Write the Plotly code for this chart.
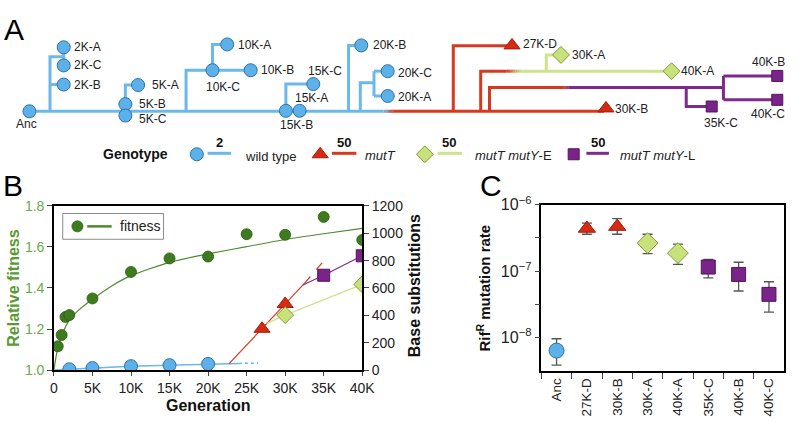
import plotly.graph_objects as go

W, H = 803, 423
FONT = "Liberation Sans, Arial, sans-serif"

# ---------------- Panel B data ----------------
fit_gen = [500, 1000, 1500, 2000, 5000, 10000, 15000, 20000, 25000, 30000, 35000, 40000]
fit_val = [1.116, 1.171, 1.259, 1.268, 1.349, 1.478, 1.544, 1.553, 1.662, 1.659, 1.746, 1.634]
curve_gen = [0, 250, 500, 1000, 1500, 2000, 3000, 5000, 7500, 10000, 15000, 20000, 25000, 30000, 35000, 40000]
curve_val = [1.0, 1.06, 1.11, 1.17, 1.21, 1.245, 1.285, 1.345, 1.41, 1.46, 1.525, 1.566, 1.601, 1.636, 1.664, 1.69]

wt_gen = [2000, 5000, 10000, 15000, 20000]
wt_subs = [6, 15, 29, 36, 45]
wt_line_gen = [0, 2000, 5000, 10000, 15000, 20000, 24000]
wt_line_subs = [0, 6, 15, 29, 36, 45, 49]
wt_dot_gen = [24000, 26500]
wt_dot_subs = [49, 52]

mutT_gen = [27000, 30000]
mutT_subs = [302, 483]
mutT_line_gen = [22700, 27000, 30000, 32500]
mutT_line_subs = [45, 302, 483, 634]
mutT_dash_gen = [32500, 34900]
mutT_dash_subs = [634, 790]

mutYE_gen = [30000, 40000]
mutYE_subs = [402, 626]
mutYE_line_gen = [27600, 30000, 40000]
mutYE_line_subs = [340, 402, 626]

mutYL_gen = [35000, 40000]
mutYL_subs = [693, 835]
mutYL_line_gen = [32300, 35000, 40000]
mutYL_line_subs = [622, 693, 835]

gen_ticks = [0, 5000, 10000, 15000, 20000, 25000, 30000, 35000, 40000]
gen_labels = ["0", "5K", "10K", "15K", "20K", "25K", "30K", "35K", "40K"]

# ---------------- Panel C data ----------------
c_cats = ["Anc", "27K-D", "30K-B", "30K-A", "40K-A", "35K-C", "40K-B", "40K-C"]
c_geno = ["wt", "mutT", "mutT", "E", "E", "L", "L", "L"]
c_rate = [6.3e-9, 4.4e-7, 4.7e-7, 2.65e-7, 1.87e-7, 1.15e-7, 8.9e-8, 4.45e-8]
c_upper = [9.5e-9, 5.3e-7, 6.2e-7, 3.6e-7, 2.56e-7, 1.5e-7, 1.36e-7, 6.9e-8]
c_lower = [3.8e-9, 3.6e-7, 3.6e-7, 1.83e-7, 1.26e-7, 7.9e-8, 5.0e-8, 2.4e-8]

# ---------------- Panel A tree (schematic layout units) ----------------
tree_names = ["Anc", "2K-A", "2K-C", "2K-B", "5K-A", "5K-B", "5K-C", "10K-A", "10K-B", "10K-C",
              "15K-C", "15K-A", "15K-B", "20K-B", "20K-C", "20K-A",
              "27K-D", "30K-B", "30K-A", "40K-A", "35K-C", "40K-B", "40K-C"]
tree_x = [26, 61, 61, 61, 137, 124, 124, 228, 252, 213, 316, 302, 288, 365, 392, 392,
          519, 615, 569, 682, 723, 790, 790]
tree_y = [105, 38, 57, 77, 77.5, 97.5, 109.5, 35, 62, 62, 76.5, 104.5, 104.5, 36, 63, 89,
          36, 102, 46, 63, 100, 68, 93]
tree_geno = ["wt"] * 16 + ["mutT", "mutT", "E", "E", "L", "L", "L"]

blue_paths = [
    [(26, 105), (388, 105)],
    [(47, 105), (47, 48), (61, 48)],
    [(47, 77), (61, 77)],
    [(61, 38), (61, 57)],
    [(124, 105), (124, 77.5), (137, 77.5)],
    [(186, 105), (186, 62), (252, 62)],
    [(213, 62), (213, 35), (228, 35)],
    [(288, 105), (288, 76.5), (316, 76.5)],
    [(352, 105), (352, 36), (365, 36)],
    [(364, 105), (364, 75), (378, 75)],
    [(378, 63), (378, 89)],
    [(378, 63), (392, 63)],
    [(378, 89), (392, 89)],
]
red_paths = [
    [(398, 105), (613, 105)],
    [(459, 105), (459, 36.5), (519, 36.5)],
    [(487, 105), (487, 63), (513, 63)],
    [(496, 105), (496, 80), (572, 80)],
]
green_paths = [
    [(528, 63), (682, 63)],
    [(554, 63), (554, 46), (569, 46)],
]
purple_paths = [
    [(578, 80), (735, 80)],
    [(697, 80), (697, 100), (723, 100)],
    [(735, 68), (735, 93)],
    [(735, 68), (790, 68)],
    [(735, 93), (790, 93)],
]
gradient_paths = [  # (start, end, color from, color to)
    ((388, 105), (398, 105), "#6cb8ea", "#d63a1e"),
    ((513, 63), (528, 63), "#d63a1e", "#cfe38a"),
    ((572, 80), (578, 80), "#d63a1e", "#7d2a8c"),
]

# ---------------- styles ----------------
STY = {
    "wt": dict(line="#6cb8ea", fill="#5db1e9", edge="#2f72a8", symbol="circle"),
    "mutT": dict(line="#d63a1e", fill="#d52b12", edge="#9c1f0c", symbol="triangle-up"),
    "E": dict(line="#cfe38a", fill="#c8e17a", edge="#7f9b3a", symbol="diamond"),
    "L": dict(line="#7d2a8c", fill="#7a2388", edge="#55145f", symbol="square"),
}


def px(x):
    return x / W


def py(y):
    return 1 - y / H


def hexlerp(c1, c2, t):
    a = [int(c1[i:i + 2], 16) for i in (1, 3, 5)]
    b = [int(c2[i:i + 2], 16) for i in (1, 3, 5)]
    return "#" + "".join("%02x" % round(a[k] + (b[k] - a[k]) * t) for k in range(3))


fig = go.Figure()

# ================= Panel B =================
fig.add_trace(go.Scatter(x=curve_gen, y=curve_val, mode="lines",
                         line=dict(color="#4f8a2f", width=1.2, shape="spline", smoothing=0.6),
                         xaxis="x", yaxis="y", hoverinfo="skip"))
fig.add_trace(go.Scatter(x=fit_gen, y=fit_val, mode="markers",
                         marker=dict(color="#3e7b1f", size=11, line=dict(color="#2b5a12", width=0.8)),
                         xaxis="x", yaxis="y"))

fig.add_trace(go.Scatter(x=wt_line_gen, y=wt_line_subs, mode="lines",
                         line=dict(color=STY["wt"]["line"], width=1.5), xaxis="x", yaxis="y2"))
fig.add_trace(go.Scatter(x=wt_dot_gen, y=wt_dot_subs, mode="lines",
                         line=dict(color=STY["wt"]["line"], width=1.5, dash="dot"), xaxis="x", yaxis="y2"))
fig.add_trace(go.Scatter(x=mutT_line_gen, y=mutT_line_subs, mode="lines",
                         line=dict(color=STY["mutT"]["line"], width=1.2), xaxis="x", yaxis="y2"))
fig.add_trace(go.Scatter(x=mutT_dash_gen, y=mutT_dash_subs, mode="lines",
                         line=dict(color=STY["mutT"]["line"], width=1.2, dash="dash"), xaxis="x", yaxis="y2"))
fig.add_trace(go.Scatter(x=mutYE_line_gen, y=mutYE_line_subs, mode="lines",
                         line=dict(color=STY["E"]["line"], width=1.4), xaxis="x", yaxis="y2"))
fig.add_trace(go.Scatter(x=mutYL_line_gen, y=mutYL_line_subs, mode="lines",
                         line=dict(color=STY["L"]["line"], width=1.2), xaxis="x", yaxis="y2"))

for g, gx, gy, sz in [("wt", wt_gen, wt_subs, 13), ("mutT", mutT_gen, mutT_subs, 14),
                      ("E", mutYE_gen, mutYE_subs, 13), ("L", mutYL_gen, mutYL_subs, 12)]:
    s = STY[g]
    fig.add_trace(go.Scatter(x=gx, y=gy, mode="markers",
                             marker=dict(symbol=s["symbol"], color=s["fill"], size=sz,
                                         line=dict(color=s["edge"], width=1)),
                             xaxis="x", yaxis="y2"))

# ================= Panel C =================
for g, sz in [("wt", 15), ("mutT", 15), ("E", 16), ("L", 14)]:
    idx = [i for i, k in enumerate(c_geno) if k == g]
    s = STY[g]
    fig.add_trace(go.Scatter(
        x=[c_cats[i] for i in idx], y=[c_rate[i] for i in idx], mode="markers",
        marker=dict(symbol=s["symbol"], color=s["fill"], size=sz, line=dict(color=s["edge"], width=1)),
        error_y=dict(type="data", symmetric=False,
                     array=[c_upper[i] - c_rate[i] for i in idx],
                     arrayminus=[c_rate[i] - c_lower[i] for i in idx],
                     color="#555555", thickness=1.3, width=5),
        xaxis="x3", yaxis="y3"))

# ================= Panel A (tree) on pixel overlay axes =================
def add_paths(paths, color):
    xs, ys = [], []
    for p in paths:
        for (a, b) in p:
            xs.append(a)
            ys.append(b)
        xs.append(None)
        ys.append(None)
    fig.add_trace(go.Scatter(x=xs, y=ys, mode="lines", line=dict(color=color, width=3),
                             xaxis="x4", yaxis="y4", hoverinfo="skip"))


add_paths(blue_paths, STY["wt"]["line"])
add_paths(red_paths, STY["mutT"]["line"])
add_paths(green_paths, STY["E"]["line"])
add_paths(purple_paths, STY["L"]["line"])
for (p0, p1, c0, c1) in gradient_paths:
    n = 8
    for k in range(n):
        t0, t1 = k / n, (k + 1) / n
        fig.add_trace(go.Scatter(
            x=[p0[0] + (p1[0] - p0[0]) * t0, p0[0] + (p1[0] - p0[0]) * t1 + 0.3],
            y=[p0[1], p1[1]], mode="lines",
            line=dict(color=hexlerp(c0, c1, (t0 + t1) / 2), width=3),
            xaxis="x4", yaxis="y4", hoverinfo="skip"))

tree_size = {"wt": 13, "mutT": 14, "E": 13, "L": 11}
for g in ["wt", "mutT", "E", "L"]:
    idx = [i for i, k in enumerate(tree_geno) if k == g]
    s = STY[g]
    fig.add_trace(go.Scatter(x=[tree_x[i] for i in idx], y=[tree_y[i] for i in idx], mode="markers",
                             marker=dict(symbol=s["symbol"], color=s["fill"], size=tree_size[g],
                                         line=dict(color=s["edge"], width=1)),
                             xaxis="x4", yaxis="y4", hoverinfo="skip"))

# genotype legend row symbols
leg_items = [("wt", 197, 208, 232), ("mutT", 323, 335, 360), ("E", 430, 443, 468), ("L", 582, 595, 618)]
for g, mx, l0, l1 in leg_items:
    s = STY[g]
    fig.add_trace(go.Scatter(x=[l0, l1], y=[149, 149], mode="lines", line=dict(color=s["line"], width=3),
                             xaxis="x4", yaxis="y4", hoverinfo="skip"))
    fig.add_trace(go.Scatter(x=[mx], y=[150], mode="markers",
                             marker=dict(symbol=s["symbol"], color=s["fill"], size=tree_size[g],
                                         line=dict(color=s["edge"], width=1)),
                             xaxis="x4", yaxis="y4", hoverinfo="skip"))

# fitness legend (panel B)
fig.add_trace(go.Scatter(x=[85, 110], y=[225.5, 225.5], mode="lines", line=dict(color="#4f8a2f", width=2.5),
                         xaxis="x4", yaxis="y4", hoverinfo="skip"))
fig.add_trace(go.Scatter(x=[75], y=[225.5], mode="markers",
                         marker=dict(color="#3e7b1f", size=11, line=dict(color="#2b5a12", width=0.8)),
                         xaxis="x4", yaxis="y4", hoverinfo="skip"))

shapes = [dict(type="rect", xref="paper", yref="paper", x0=px(60), x1=px(163), y0=py(239), y1=py(212),
               line=dict(color="#8a8a8a", width=1), fillcolor="rgba(0,0,0,0)", layer="below")]

ann = []


def text(x, y, t, size=12, xa="left", color="#222222", bold=False, angle=0, ya="middle"):
    if bold:
        t = "<b>" + t + "</b>"
    ann.append(dict(x=px(x), y=py(y), xref="paper", yref="paper", text=t, showarrow=False,
                    xanchor=xa, yanchor=ya, textangle=angle, borderpad=0,
                    font=dict(size=size, color=color, family=FONT)))


tree_labels = [
    ("Anc", 23, 118, "center"), ("2K-A", 71, 38, "left"), ("2K-C", 71, 57, "left"), ("2K-B", 71, 77, "left"),
    ("5K-A", 150, 78, "left"), ("5K-B", 137, 97, "left"), ("5K-C", 137, 113, "left"),
    ("10K-A", 238, 36, "left"), ("10K-B", 262, 62, "left"), ("10K-C", 224, 80, "center"),
    ("15K-C", 310, 63, "left"), ("15K-A", 296, 91, "left"), ("15K-B", 299, 119, "center"),
    ("20K-B", 376, 36, "left"), ("20K-C", 402, 65, "left"), ("20K-A", 402, 90, "left"),
    ("27K-D", 529, 35, "left"), ("30K-A", 579, 46, "left"), ("40K-A", 691, 63, "left"),
    ("30K-B", 623, 103, "left"), ("40K-B", 781, 53, "center"), ("40K-C", 781, 108, "center"),
    ("35K-C", 733, 117, "center"),
]
for t, x, y, xa in tree_labels:
    text(x, y, t, size=12, xa=xa)

# genotype legend texts
text(169, 150, "Genotype", size=14, xa="right", bold=True, color="#111111")
for n, x in [("2", 220), ("50", 347), ("50", 455), ("50", 607)]:
    text(x, 138, n, size=13, xa="center", bold=True, color="#111111")
text(245, 152, "wild type", size=13)
text(368, 151, "<i>mutT</i>", size=13)
text(480, 151, "<i>mutT mutY</i>-E", size=13)
text(628, 151, "<i>mutT mutY</i>-L", size=13)

# panel letters
text(10, 19, "A", size=30, xa="center", color="#000000")
text(9, 183, "B", size=30, xa="center", color="#000000")
text(498, 183, "C", size=30, xa="center", color="#000000")

# axis titles
text(10, 290, "Relative fitness", size=16, xa="center", bold=True, color="#5a9a35", angle=-90)
text(419, 288, "Base substitutions", size=16, xa="center", bold=True, color="#111111", angle=-90)
text(208, 413, "Generation", size=16, xa="center", bold=True, color="#111111")
text(490, 290, "Rif<sup>R</sup> mutation rate", size=15, xa="center", bold=True, color="#111111", angle=-90)
text(117, 225.5, "fitness", size=14)

tick_font = dict(size=14, color="#222222", family=FONT)

fig.update_layout(
    width=W, height=H, margin=dict(l=0, r=0, t=0, b=0),
    paper_bgcolor="white", plot_bgcolor="rgba(0,0,0,0)", showlegend=False,
    font=dict(family=FONT),
    shapes=shapes, annotations=ann,
    xaxis=dict(domain=[px(51), px(366)], range=[0, 40000], anchor="y",
               tickvals=gen_ticks, ticktext=gen_labels, ticks="outside", ticklen=4,
               showline=True, linecolor="#000000", linewidth=1.5, mirror=True,
               showgrid=False, zeroline=False, tickfont=tick_font),
    yaxis=dict(domain=[py(376), py(204)], range=[1.0, 1.8], anchor="x",
               tickvals=[1.0, 1.2, 1.4, 1.6, 1.8], ticktext=["1.0", "1.2", "1.4", "1.6", "1.8"],
               ticks="outside", ticklen=5, showline=True, linecolor="#000000", linewidth=1.5,
               showgrid=False, zeroline=False,
               tickfont=dict(size=14, color="#6aa84f", family=FONT)),
    yaxis2=dict(overlaying="y", side="right", range=[0, 1200], anchor="x",
                tickvals=[0, 200, 400, 600, 800, 1000, 1200], ticks="outside", ticklen=5,
                showline=True, linecolor="#000000", linewidth=1.5, showgrid=False, zeroline=False,
                tickfont=tick_font),
    xaxis3=dict(domain=[px(549), px(797)], anchor="y3", type="category",
                categoryorder="array", categoryarray=c_cats, range=[-0.5, 7.5],
                tickson="boundaries", ticks="outside", ticklen=6, tickangle=-90,
                showline=True, linecolor="#000000", linewidth=1.5, mirror=True,
                showgrid=False, zeroline=False, tickfont=dict(size=13.5, color="#222222", family=FONT)),
    yaxis3=dict(domain=[py(377), py(203)], anchor="x3", type="log", range=[-8.51, -6],
                tickvals=[1e-6, 10 ** -6.5, 1e-7, 10 ** -7.5, 1e-8],
                ticktext=["10<sup>−6</sup>", " ", "10<sup>−7</sup>", " ", "10<sup>−8</sup>"],
                ticks="outside", ticklen=5, showline=True, linecolor="#000000", linewidth=1.5,
                mirror=True, showgrid=False, zeroline=False, tickfont=dict(size=16, color="#222222", family=FONT)),
    xaxis4=dict(domain=[0, 1], range=[0, W], anchor="y4", visible=False, fixedrange=True),
    yaxis4=dict(domain=[0, 1], range=[H, 0], anchor="x4", visible=False, fixedrange=True),
)

fig.write_html("out.html", post_script="document.body.style.margin='0px';",
               config={"displayModeBar": False})
